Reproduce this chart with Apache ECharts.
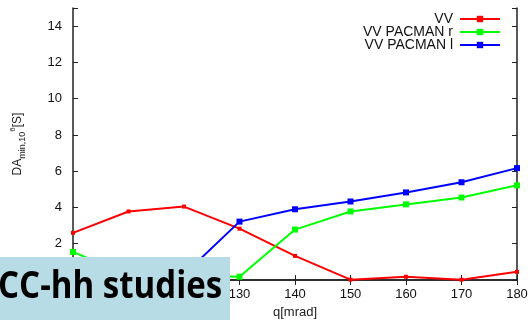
<!DOCTYPE html>
<html>
<head>
<meta charset="utf-8">
<script src="https://cdn.jsdelivr.net/npm/echarts@6/dist/echarts.min.js"></script>
<style>
  html, body { margin: 0; padding: 0; background: #fff; }
  #chart { width: 531px; height: 320px; }
</style>
</head>
<body>
<div id="chart"></div>
<script>
// crossing angle in mrad
const angles = [100, 110, 120, 130, 140, 150, 160, 170, 180];
// minimum dynamic aperture, in sigma
const vv = [2.6, 3.78, 4.05, 2.83, 1.33, 0.02, 0.18, 0.02, 0.45];
const vvPacmanR = [1.55, 0.25, 0.25, 0.18, 2.78, 3.78, 4.17, 4.55, 5.22];
const vvPacmanL = [0.1, 0.2, 0.3, 3.22, 3.9, 4.33, 4.83, 5.39, 6.17];
const seriesNames = ['VV', 'VV PACMAN r', 'VV PACMAN l'];
const seriesColors = ['#ff0000', '#00ff00', '#0000ff'];
const bannerText = 'CC-hh studies';

const pairs = vals => angles.map((a, i) => [a, vals[i]]);

const chart = echarts.init(document.getElementById('chart'), null, { renderer: 'canvas' });

const font = 'Liberation Sans, Arial, sans-serif';
const frame = { lineStyle: { color: '#222', width: 1.5 } };
const inTicks = { inside: true, length: 5, lineStyle: { color: '#222' } };

chart.setOption({
  animation: false,
  textStyle: { fontFamily: font },
  grid: { left: 73, right: 14, top: 8, bottom: 40, containLabel: false, outerBoundsMode: 'none' },
  legend: {
    orient: 'vertical',
    right: 30,
    top: 12,
    align: 'right',
    padding: 0,
    itemWidth: 40,
    itemHeight: 8,
    itemGap: -1,
    textStyle: { fontFamily: font, fontSize: 14, lineHeight: 12, color: '#111', padding: [0, 2, 0, 0] },
    data: seriesNames
  },
  xAxis: [{
    type: 'value',
    min: 100, max: 180, interval: 10,
    name: 'q[mrad]',
    nameLocation: 'middle',
    nameGap: 26,
    nameTextStyle: { fontFamily: font, fontSize: 13, color: '#222' },
    axisLine: frame,
    axisTick: inTicks,
    axisLabel: { fontFamily: font, fontSize: 13, color: '#111', margin: 8 },
    splitLine: { show: false }
  }, {
    type: 'value', position: 'top',
    min: 100, max: 180, interval: 10,
    axisLine: frame,
    axisTick: inTicks,
    axisLabel: { show: false },
    splitLine: { show: false }
  }],
  yAxis: [{
    type: 'value',
    min: 0, max: 15, interval: 2,
    name: '{n|DA}{sub|min,10}{sup|6}{n|[S]}',
    nameLocation: 'middle',
    nameRotate: 90,
    nameGap: 46,
    nameTextStyle: {
      fontFamily: font, color: '#222',
      rich: {
        n: { fontFamily: font, fontSize: 12, color: '#222', lineHeight: 18, verticalAlign: 'middle' },
        sub: { fontFamily: font, fontSize: 9, color: '#222', lineHeight: 18, verticalAlign: 'bottom' },
        sup: { fontFamily: font, fontSize: 8, color: '#222', lineHeight: 18, verticalAlign: 'top' }
      }
    },
    axisLine: frame,
    axisTick: inTicks,
    axisLabel: {
      fontFamily: font, fontSize: 13, color: '#111', margin: 11,
      formatter: v => (v % 2 === 0 ? String(v) : '')
    },
    splitLine: { show: false }
  }, {
    type: 'value', position: 'right',
    min: 0, max: 15, interval: 2,
    axisLine: frame,
    axisTick: inTicks,
    axisLabel: { show: false },
    splitLine: { show: false }
  }],
  series: [vv, vvPacmanR, vvPacmanL].map((vals, i) => ({
    name: seriesNames[i],
    type: 'line',
    xAxisIndex: 0,
    yAxisIndex: 0,
    data: pairs(vals),
    color: seriesColors[i],
    symbol: 'rect',
    symbolSize: i === 0 ? 4 : 6,
    lineStyle: { width: 2, color: seriesColors[i] },
    itemStyle: { color: seriesColors[i] }
  })),
  graphic: [{
    type: 'rect',
    left: 0, top: 257,
    z: 100,
    shape: { width: 230, height: 63 },
    style: { fill: '#b7dce6' }
  }, {
    type: 'text',
    x: -2, y: 268,
    scaleX: 0.87,
    z: 101,
    style: {
      text: bannerText,
      fontFamily: 'Open Sans, Noto Sans, sans-serif',
      fontWeight: 'bold',
      fontSize: 38,
      fill: '#000'
    }
  }]
});
</script>
</body>
</html>
